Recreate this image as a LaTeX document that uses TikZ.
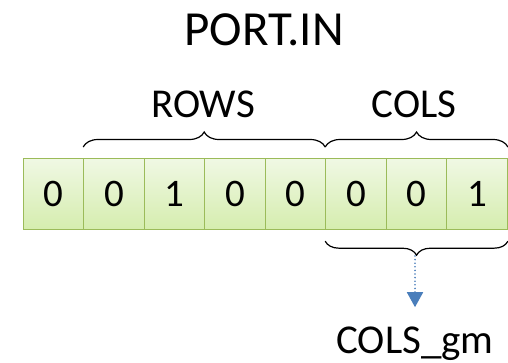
\documentclass[tikz,border=0pt]{standalone}
\usepackage{fontspec}
\setmainfont{Carlito}
\usetikzlibrary{decorations.pathreplacing,arrows.meta}
\definecolor{cellline}{HTML}{9BBB59}
\definecolor{celltop}{HTML}{F0F8E4}
\definecolor{cellbot}{HTML}{D5EDAE}
\definecolor{flowblue}{HTML}{4A7EBB}
\tikzset{
  bitcell/.style={draw=cellline, line width=1.2pt, top color=celltop, bottom color=cellbot,
    minimum width=60.5pt, minimum height=71pt, inner sep=0pt, anchor=north west,
    font=\fontsize{39}{39}\selectfont},
  label/.style={font=\fontsize{41}{41}\selectfont, anchor=base, inner sep=0pt},
  title/.style={font=\fontsize{49}{49}\selectfont, anchor=base, inner sep=0pt},
  bracket/.style={draw=black, line width=1.2pt,
    decorate, decoration={brace, amplitude=#1}},
  flow/.style={draw=flowblue, line width=1.8pt, line cap=round,
    dash pattern=on 0pt off 3.6pt,
    -{Triangle[length=15pt,width=16pt]}}
}
\begin{document}
\begin{tikzpicture}[x=1pt,y=-1pt]
  \useasboundingbox (0,0) rectangle (508,362);
  % register bits
  \foreach \b [count=\i from 0] in {0,0,1,0,0,0,0,1}
    \node[bitcell] (c\i) at ({22.7+60.5*\i},158) {\b};
  % title
  \node[title] (port) at (264,45) {PORT.IN};
  % field labels
  \node[label] (rows) at (203,117) {ROWS};
  \node[label] (cols) at (414,117) {COLS};
  % braces over the fields
  \coordinate (rowsL) at ([yshift=11pt]c1.north west);
  \coordinate (rowsR) at ([yshift=11pt]c5.north west);
  \coordinate (colsR) at ([yshift=11pt]c7.north east);
  \draw[bracket=15pt] (rowsL) -- (rowsR);
  \draw[bracket=15pt] (rowsR) -- (colsR);
  % brace under the column field, pointing down to the extracted field
  \coordinate (gmL) at ([yshift=-11pt]c5.south west);
  \coordinate (gmR) at ([yshift=-11pt]c7.south east);
  \draw[bracket=14pt] (gmR) -- (gmL);
  \node[label] (gm) at (415,353) {COLS\_gm};
  \coordinate (gmTip) at (415,256);
  \draw[flow] (gmTip) -- ([yshift=19pt]gm.north);
\end{tikzpicture}
\end{document}
